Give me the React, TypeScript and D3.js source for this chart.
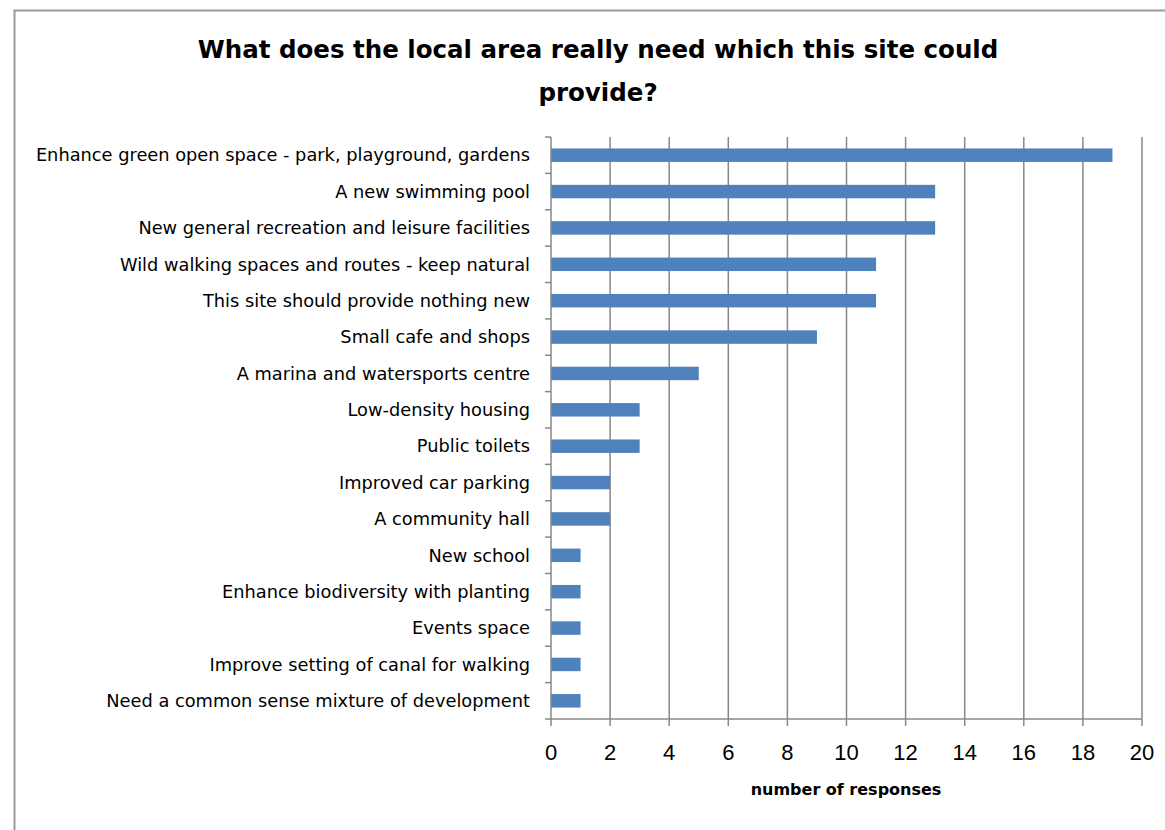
import React from "react";
import * as d3 from "d3";

const categories = [
  "Enhance green open space - park, playground, gardens",
  "A new swimming pool",
  "New general recreation and leisure facilities",
  "Wild walking spaces and routes - keep natural",
  "This site should provide nothing new",
  "Small cafe and shops",
  "A marina and watersports centre",
  "Low-density housing",
  "Public toilets",
  "Improved car parking",
  "A community hall",
  "New school",
  "Enhance biodiversity with planting",
  "Events space",
  "Improve setting of canal for walking",
  "Need a common sense mixture of development",
];
const values = [19, 13, 13, 11, 11, 9, 5, 3, 3, 2, 2, 1, 1, 1, 1, 1];
const xTicks = [0, 2, 4, 6, 8, 10, 12, 14, 16, 18, 20];
const titleLines = ["What does the local area really need which this site could", "provide?"];
const xAxisTitle = "number of responses";

export default function App() {
  const W = 1165, H = 830;
  const left = 551, right = 1142, top = 137, bottom = 719;
  const x = d3.scaleLinear().domain([0, 20]).range([left, right]);
  const y = d3.scaleBand<number>().domain(d3.range(categories.length)).range([top, bottom]).paddingInner(0.63).paddingOuter(0.315);
  const band = (bottom - top) / categories.length;
  const grid = "#888888";
  const labelFont = "'DejaVu Sans', sans-serif";
  return (
    <svg width={W} height={H} style={{ position: "absolute", left: 0, top: 0 }}>
      <rect x={0} y={0} width={W} height={H} fill="#fff" />
      <path d={`M14.5,${H} V10.5 H${W}`} fill="none" stroke="#999" strokeWidth={2} />
      {titleLines.map((t, i) => (
        <text key={i} x={598} y={58 + i * 43} textAnchor="middle" fontFamily="'DejaVu Sans', sans-serif" fontWeight="bold" fontSize={24.5} fill="#000">{t}</text>
      ))}
      {xTicks.slice(1).map((t) => (
        <line key={t} x1={x(t)} x2={x(t)} y1={top} y2={bottom} stroke={grid} strokeWidth={1.5} />
      ))}
      {values.map((v, i) => (
        <rect key={i} x={x(0)} y={y(i)} width={x(v) - x(0)} height={y.bandwidth()} fill="#4F81BD" />
      ))}
      <line x1={left} x2={left} y1={top} y2={bottom} stroke={grid} strokeWidth={1.5} />
      <line x1={left} x2={right} y1={bottom} y2={bottom} stroke={grid} strokeWidth={1.5} />
      {d3.range(categories.length + 1).map((i) => (
        <line key={i} x1={left - 6} x2={left} y1={top + i * band} y2={top + i * band} stroke={grid} strokeWidth={1.5} />
      ))}
      {xTicks.map((t) => (
        <line key={t} x1={x(t)} x2={x(t)} y1={bottom} y2={bottom + 7} stroke={grid} strokeWidth={1.5} />
      ))}
      {categories.map((c, i) => (
        <text key={c} x={530} y={(y(i) as number) + y.bandwidth() / 2} dy="0.35em" textAnchor="end" fontFamily={labelFont} fontSize={17.8} fill="#000">{c}</text>
      ))}
      {xTicks.map((t) => (
        <text key={t} x={x(t)} y={760} textAnchor="middle" fontFamily="'Liberation Sans', sans-serif" fontSize={22} fill="#000">{t}</text>
      ))}
      <text x={846} y={795} textAnchor="middle" fontFamily="'DejaVu Sans', sans-serif" fontWeight="bold" fontSize={16} fill="#000">{xAxisTitle}</text>
    </svg>
  );
}
